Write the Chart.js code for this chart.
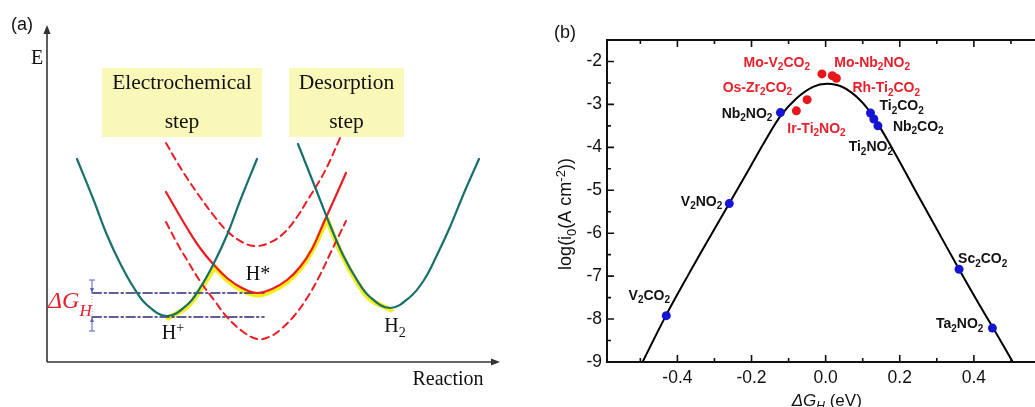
<!DOCTYPE html>
<html>
<head>
<meta charset="utf-8">
<script src="https://cdn.jsdelivr.net/npm/chart.js@4/dist/chart.umd.min.js"></script>
<style>
  html, body { margin: 0; padding: 0; background: #fff; overflow: hidden; width: 1035px; height: 407px; }
  #ca { position: absolute; left: 0; top: 0; }
  #cb { position: absolute; left: 540px; top: 0; }
</style>
</head>
<body>
<canvas id="ca" width="540" height="407"></canvas>
<canvas id="cb" width="520" height="407"></canvas>
<script>
// ---------- panel (a): schematic energy wells, arbitrary units [reaction, energy] ----------
const wellHplus = [[30,203],[47,161],[60,127],[73,99],[87,74],[100,57],[120,46],[140,57],[153,74],[167,99],[180,127],[193,161],[210,203]];
const wellHstar = [[119,170],[130,151],[140,134],[153,114],[167,97],[180,84],[195,74],[210,69],[225,73],[240,82],[253,95],[265,113],[277,140],[287,162],[299,189]];
const wellHstarUp = [[119,219],[130,200],[140,184],[153,165],[167,146],[180,131],[195,120],[208,116],[222,119],[237,129],[250,145],[260,161],[270,177],[280,195],[293,224]];
const wellHstarDown = [[119,140],[130,119],[140,102],[153,81],[167,62],[180,45],[195,31],[210,23],[222,25],[233,32],[247,46],[260,64],[272,85],[283,108],[299,141]];
const wellH2 = [[251,218],[270,170],[283,137],[296,107],[310,82],[323,65],[343,54],[363,65],[377,82],[390,107],[403,135],[417,169],[432,203]];
// yellow reaction path H+ -> H* -> H2
const pathToHstar = [[121,44],[140,55],[153,72],[168,95]];
const pathHstar = [[168,95],[180,82],[195,72],[210,67],[225,71],[240,80],[253,93],[265,111],[280,143]];
const pathToH2 = [[280,143],[283,135],[296,105],[310,80],[323,63],[344,52]];
// ΔG_H reference levels
const levelHstar = [[45,69],[217,69]];
const levelHplus = [[45,45],[217,45]];

// ---------- panel (b): volcano plot ----------
const curveDG = [-0.494, -0.431, -0.368, -0.314, -0.261, -0.205, -0.160, -0.120, -0.079, -0.034, 0.004,
                 0.047, 0.092, 0.128, 0.182, 0.236, 0.290, 0.360, 0.407, 0.452, 0.505];
const curveLogI = [-9, -7.92, -6.93, -6.11, -5.32, -4.48, -3.80, -3.25, -2.86, -2.59, -2.52,
                   -2.60, -2.89, -3.28, -4.06, -4.91, -5.75, -6.84, -7.55, -8.21, -9];

const blueNames = ['V_2CO_2', 'V_2NO_2', 'Nb_2NO_2', 'Ti_2CO_2', 'Ti_2NO_2', 'Nb_2CO_2', 'Sc_2CO_2', 'Ta_2NO_2'];
const blueDG = [-0.43, -0.26, -0.122, 0.121, 0.130, 0.141, 0.36, 0.45];
const blueLogI = [-7.92, -5.31, -3.19, -3.20, -3.34, -3.50, -6.84, -8.21];

const redNames = ['Mo-V_2CO_2', 'Mo-Nb_2NO_2', 'Rh-Ti_2CO_2', 'Os-Zr_2CO_2', 'Ir-Ti_2NO_2'];
const redDG = [-0.010, 0.018, 0.029, -0.050, -0.079];
const redLogI = [-2.29, -2.33, -2.39, -2.89, -3.15];

const xTickVals = [-0.5, -0.4, -0.3, -0.2, -0.1, 0, 0.1, 0.2, 0.3, 0.4, 0.5, 0.6];
const xTickLabels = ['', '-0.4', '', '-0.2', '', '0.0', '', '0.2', '', '0.4', '', ''];
const yTickVals = [-9, -8.5, -8, -7.5, -7, -6.5, -6, -5.5, -5, -4.5, -4, -3.5, -3, -2.5, -2, -1.5];
const yTickLabels = ['-9', '', '-8', '', '-7', '', '-6', '', '-5', '', '-4', '', '-3', '', '-2', ''];

// ---------- styles / placement ----------
const SANS = "'Liberation Sans', Arial, sans-serif";
const SERIF = "'Liberation Serif', 'Times New Roman', serif";
const GREEN = '#17706b';
const RED = '#ec1c24';
const NAVY = '#2b2b72';

const stepBoxes = [
  { x0: 55, x1: 215, y0: 225, y1: 294, lines: ['Electrochemical', 'step'] },
  { x0: 242, x1: 357, y0: 225, y1: 294, lines: ['Desorption', 'step'] }
];
// label offsets in px from the marker: [dx, dy, align]
const blueLabelPos = [[-17, -21, 'center'], [-7, -3, 'right'], [-8, 0, 'right'], [9, -8, 'left'],
                      [-3, 27, 'center'], [15, 0, 'left'], [-1, -11, 'left'], [-9, -5, 'right']];
const redLabelPos = [[-12, -12, 'right'], [2, -14, 'left'], [16, 9, 'left'], [-15, -13, 'right'], [-9, 17, 'left']];

// text with _x / ^{..} sub- and superscripts
function parseRich(s) {
  const parts = [];
  let buf = '', i = 0;
  while (i < s.length) {
    const c = s[i];
    if (c === '_' || c === '^') {
      if (buf) { parts.push({ t: buf }); buf = ''; }
      let t;
      if (s[i + 1] === '{') { const j = s.indexOf('}', i); t = s.slice(i + 2, j); i = j + 1; }
      else { t = s[i + 1]; i += 2; }
      parts.push({ t: t, sub: c === '_', sup: c === '^' });
    } else { buf += c; i++; }
  }
  if (buf) parts.push({ t: buf });
  return parts;
}

function drawRich(ctx, parts, x, y, size, opt) {
  const font = p => (p.it || opt.italic ? 'italic ' : '') + (opt.weight || 'normal') + ' ' +
    (p.size || ((p.sub || p.sup) ? Math.round(size * 0.7) : size)) + 'px ' + opt.family;
  let w = 0;
  parts.forEach(p => { ctx.font = font(p); p.w = ctx.measureText(p.t).width; w += p.w; });
  let cx = opt.align === 'right' ? x - w : opt.align === 'center' ? x - w / 2 : x;
  const base = y + size * 0.36;
  ctx.fillStyle = opt.color || '#000';
  ctx.textBaseline = 'alphabetic';
  ctx.textAlign = 'left';
  parts.forEach(p => {
    ctx.font = font(p);
    const dy = p.dy !== undefined ? p.dy : p.sub ? size * 0.25 : p.sup ? -size * 0.38 : 0;
    ctx.fillText(p.t, cx, base + dy);
    cx += p.w;
  });
}

function toXY(arr) { return arr.map(p => ({ x: p[0], y: p[1] })); }

function lineSet(arr, color, width, dash, order) {
  return {
    data: toXY(arr), borderColor: color, borderWidth: width, borderDash: dash || [],
    pointRadius: 0, fill: false, tension: 0.4, order: order, borderCapStyle: 'round'
  };
}

function arrow(ctx, x0, y0, x1, y1, head) {
  const ang = Math.atan2(y1 - y0, x1 - x0);
  ctx.beginPath(); ctx.moveTo(x0, y0); ctx.lineTo(x1 - Math.cos(ang) * head * 0.6, y1 - Math.sin(ang) * head * 0.6); ctx.stroke();
  ctx.beginPath();
  ctx.moveTo(x1, y1);
  ctx.lineTo(x1 - head * Math.cos(ang) + head * 0.4 * Math.sin(ang), y1 - head * Math.sin(ang) - head * 0.4 * Math.cos(ang));
  ctx.lineTo(x1 - head * Math.cos(ang) - head * 0.4 * Math.sin(ang), y1 - head * Math.sin(ang) + head * 0.4 * Math.cos(ang));
  ctx.closePath(); ctx.fill();
}

// panel (a) decorations
const schemePlugin = {
  id: 'scheme',
  beforeDatasetsDraw(chart) {
    const { ctx, scales: { x, y } } = chart;
    ctx.save();
    ctx.fillStyle = '#faf8b9';
    stepBoxes.forEach(b => {
      const px0 = x.getPixelForValue(b.x0), px1 = x.getPixelForValue(b.x1);
      const py0 = y.getPixelForValue(b.y1), py1 = y.getPixelForValue(b.y0);
      ctx.fillRect(px0, py0, px1 - px0, py1 - py0);
    });
    ctx.fillStyle = '#111';
    ctx.font = '21.5px ' + SERIF;
    ctx.textAlign = 'center';
    ctx.textBaseline = 'middle';
    stepBoxes.forEach(b => {
      const cx = x.getPixelForValue((b.x0 + b.x1) / 2);
      ctx.fillText(b.lines[0], cx, y.getPixelForValue(b.y1 - 15));
      ctx.fillText(b.lines[1], cx, y.getPixelForValue(b.y0 + 15));
    });
    ctx.restore();
  },
  afterDatasetsDraw(chart) {
    const { ctx, chartArea: a, scales: { x, y } } = chart;
    ctx.save();
    // axes with arrow heads
    ctx.strokeStyle = '#333'; ctx.fillStyle = '#333'; ctx.lineWidth = 1.6;
    arrow(ctx, a.left, a.bottom, a.left, a.top, 9);
    arrow(ctx, a.left, a.bottom, a.right, a.bottom, 9);
    // ΔG_H arrows
    const ax = x.getPixelForValue(45);
    ctx.strokeStyle = '#5560b0'; ctx.fillStyle = '#5560b0'; ctx.lineWidth = 1;
    arrow(ctx, ax, y.getPixelForValue(82), ax, y.getPixelForValue(69), 5);
    arrow(ctx, ax, y.getPixelForValue(31), ax, y.getPixelForValue(45), 5);
    ctx.beginPath(); ctx.moveTo(ax - 3, y.getPixelForValue(82)); ctx.lineTo(ax + 3, y.getPixelForValue(82));
    ctx.moveTo(ax - 3, y.getPixelForValue(31)); ctx.lineTo(ax + 3, y.getPixelForValue(31)); ctx.stroke();
    ctx.setLineDash([1, 2]); ctx.strokeStyle = '#aab0dd';
    ctx.beginPath(); ctx.moveTo(ax, y.getPixelForValue(69)); ctx.lineTo(ax, y.getPixelForValue(45)); ctx.stroke();
    ctx.setLineDash([]);
    // texts
    drawRich(ctx, [{ t: 'ΔG', it: true }, { t: 'H', it: true, size: 17, dy: 8 }],
      x.getPixelForValue(1), y.getPixelForValue(63), 24, { family: SERIF, color: '#e5202a' });
    drawRich(ctx, parseRich('H^+'), x.getPixelForValue(126), y.getPixelForValue(30), 20, { family: SERIF, align: 'center', color: '#111' });
    drawRich(ctx, parseRich('H*'), x.getPixelForValue(211), y.getPixelForValue(89), 20, { family: SERIF, align: 'center', color: '#111' });
    drawRich(ctx, parseRich('H_2'), x.getPixelForValue(348), y.getPixelForValue(37), 20, { family: SERIF, align: 'center', color: '#111' });
    drawRich(ctx, parseRich('E'), x.getPixelForValue(-10), y.getPixelForValue(305), 20, { family: SERIF, align: 'center', color: '#111' });
    drawRich(ctx, parseRich('Reaction'), x.getPixelForValue(401), y.getPixelForValue(-16), 20, { family: SERIF, align: 'center', color: '#111' });
    ctx.fillStyle = '#111'; ctx.font = '18px ' + SANS; ctx.textAlign = 'left'; ctx.textBaseline = 'alphabetic';
    ctx.fillText('(a)', 11, 30);
    ctx.restore();
  }
};

new Chart(document.getElementById('ca'), {
  type: 'line',
  data: {
    datasets: [
      lineSet(pathToHstar, '#f3ee1c', 5, [], 10),
      lineSet(pathHstar, '#f3ee1c', 5, [], 10),
      lineSet(pathToH2, '#f3ee1c', 5, [], 10),
      lineSet(levelHstar, NAVY, 1.6, [9, 3, 2, 3], 5),
      lineSet(levelHplus, NAVY, 1.6, [9, 3, 2, 3], 5),
      lineSet(wellHstarUp, RED, 2, [7, 5], 4),
      lineSet(wellHstarDown, RED, 2, [7, 5], 4),
      lineSet(wellHstar, RED, 2.2, [], 2),
      lineSet(wellHplus, GREEN, 2.2, [], 1),
      lineSet(wellH2, GREEN, 2.2, [], 1)
    ]
  },
  options: {
    responsive: false,
    animation: false,
    layout: { padding: { left: 47, right: 40, top: 25, bottom: 45 } },
    scales: {
      x: { type: 'linear', min: 0, max: 453, display: false },
      y: { type: 'linear', min: 0, max: 337, display: false }
    },
    plugins: { legend: { display: false }, tooltip: { enabled: false } }
  },
  plugins: [schemePlugin]
});

// panel (b) frame, inward ticks, labels
const volcanoPlugin = {
  id: 'volcano',
  afterDraw(chart) {
    const { ctx, chartArea: a, scales: { x, y } } = chart;
    ctx.save();
    ctx.strokeStyle = '#111'; ctx.lineWidth = 1.6;
    ctx.beginPath();
    x.ticks.forEach((t, i) => {
      const px = x.getPixelForValue(t.value), len = xTickLabels[i] ? 7 : 4;
      ctx.moveTo(px, a.bottom); ctx.lineTo(px, a.bottom - len);
      ctx.moveTo(px, a.top); ctx.lineTo(px, a.top + len);
    });
    y.ticks.forEach((t, i) => {
      const py = y.getPixelForValue(t.value), len = yTickLabels[i] ? 7 : 4;
      ctx.moveTo(a.left, py); ctx.lineTo(a.left + len, py);
      ctx.moveTo(a.right, py); ctx.lineTo(a.right - len, py);
    });
    ctx.stroke();
    ctx.lineWidth = 2;
    ctx.strokeRect(a.left, a.top, a.right - a.left, a.bottom - a.top);

    blueNames.forEach((n, i) => {
      const p = blueLabelPos[i];
      drawRich(ctx, parseRich(n), x.getPixelForValue(blueDG[i]) + p[0], y.getPixelForValue(blueLogI[i]) + p[1], 14,
        { family: SANS, weight: 'bold', align: p[2], color: '#111' });
    });
    redNames.forEach((n, i) => {
      const p = redLabelPos[i];
      drawRich(ctx, parseRich(n), x.getPixelForValue(redDG[i]) + p[0], y.getPixelForValue(redLogI[i]) + p[1], 14,
        { family: SANS, weight: 'bold', align: p[2], color: '#e8202a' });
    });

    // axis titles
    drawRich(ctx, [{ t: 'ΔG', it: true }, { t: 'H', sub: true, it: true }, { t: ' (eV)' }],
      x.getPixelForValue(0.003), 400, 17, { family: SANS, align: 'center', color: '#111' });
    ctx.translate(25, 214);
    ctx.rotate(-Math.PI / 2);
    drawRich(ctx, parseRich('log(i_0(A cm^{-2}))'), 0, 0, 18, { family: SANS, align: 'center', color: '#111' });
    ctx.setTransform(1, 0, 0, 1, 0, 0);
    ctx.fillStyle = '#111'; ctx.font = '18px ' + SANS; ctx.textAlign = 'left'; ctx.textBaseline = 'alphabetic';
    ctx.fillText('(b)', 14, 38);
    ctx.restore();
  }
};

new Chart(document.getElementById('cb'), {
  type: 'scatter',
  data: {
    datasets: [
      {
        type: 'line', data: curveDG.map((v, i) => ({ x: v, y: curveLogI[i] })), borderColor: '#000', borderWidth: 2,
        pointRadius: 0, tension: 0.4, order: 3
      },
      { data: blueDG.map((v, i) => ({ x: v, y: blueLogI[i] })), backgroundColor: '#1414d2', borderWidth: 0, pointRadius: 4.5, order: 1 },
      { data: redDG.map((v, i) => ({ x: v, y: redLogI[i] })), backgroundColor: '#e8161b', borderWidth: 0, pointRadius: 4.5, order: 1 }
    ]
  },
  options: {
    responsive: false,
    animation: false,
    layout: { padding: { left: 0, right: 12, top: 40, bottom: 0 } },
    scales: {
      x: {
        type: 'linear', min: -0.59, max: 0.6,
        afterBuildTicks: s => { s.ticks = xTickVals.map(v => ({ value: v })); },
        afterFit: s => { s.height = 45; },
        grid: { display: false, drawTicks: false }, border: { display: false },
        ticks: { autoSkip: false, maxRotation: 0, padding: 6, color: '#111', font: { family: SANS, size: 17.5 },
          callback: (v, i) => xTickLabels[i] }
      },
      y: {
        type: 'linear', min: -9, max: -1.5,
        afterBuildTicks: s => { s.ticks = yTickVals.map(v => ({ value: v })); },
        afterFit: s => { s.width = 67; },
        grid: { display: false, drawTicks: false }, border: { display: false },
        ticks: { autoSkip: false, padding: 5, color: '#111', font: { family: SANS, size: 17.5 },
          callback: (v, i) => yTickLabels[i] }
      }
    },
    plugins: { legend: { display: false }, tooltip: { enabled: false } }
  },
  plugins: [volcanoPlugin]
});
</script>
</body>
</html>
